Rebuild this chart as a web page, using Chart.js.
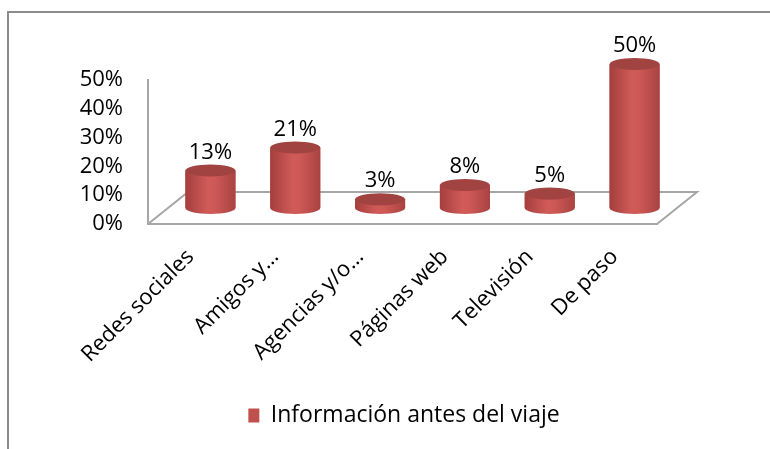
<!DOCTYPE html>
<html>
<head>
<meta charset="utf-8">
<script src="https://cdn.jsdelivr.net/npm/chart.js@4/dist/chart.umd.min.js"></script>
<style>
  html, body { margin: 0; padding: 0; background: #fff; }
  canvas { display: block; }
</style>
</head>
<body>
<canvas id="chart" width="770" height="449"></canvas>
<script>
const categories = ['Redes sociales', 'Amigos y…', 'Agencias y/o…', 'Páginas web', 'Televisión', 'De paso'];
const values = [13, 21, 3, 8, 5, 50];
const yTicks = [0, 10, 20, 30, 40, 50];
const seriesName = 'Información antes del viaje';

// 3D depth of the floor, bars sit half way back
const DEPTH_X = 40;
const DEPTH_Y = -32;
const RY = 6;
const FONT = "'Open Sans', sans-serif";

const cylinders = {
    id: 'cylinders',
    beforeDraw(chart) {
        const ctx = chart.ctx;
        ctx.save();
        ctx.strokeStyle = '#8c8c8c';
        ctx.lineWidth = 2;
        ctx.strokeRect(8, 12, 800, 500);
        ctx.restore();
    },
    beforeDatasetsDraw(chart) {
        const ctx = chart.ctx;
        const a = chart.chartArea;
        ctx.save();
        ctx.strokeStyle = '#a6a6a6';
        ctx.lineWidth = 2;
        ctx.beginPath();
        ctx.moveTo(a.left, a.bottom);
        ctx.lineTo(a.left + DEPTH_X, a.bottom + DEPTH_Y);
        ctx.lineTo(a.right + DEPTH_X, a.bottom + DEPTH_Y);
        ctx.lineTo(a.right, a.bottom);
        ctx.stroke();
        ctx.restore();
        ctx.save();
        ctx.translate(DEPTH_X / 2, DEPTH_Y / 2);
    },
    afterDatasetsDraw(chart) {
        const ctx = chart.ctx;
        const meta = chart.getDatasetMeta(0);
        meta.data.forEach((el, i) => {
            const cx = el.x, rx = el.width / 2, top = el.y, base = el.base;
            const g = ctx.createLinearGradient(cx - rx, 0, cx + rx, 0);
            g.addColorStop(0, '#a43f3d');
            g.addColorStop(0.45, '#d05b58');
            g.addColorStop(0.6, '#cd5855');
            g.addColorStop(1, '#a84341');
            ctx.beginPath();
            ctx.moveTo(cx - rx, top);
            ctx.lineTo(cx - rx, base);
            ctx.ellipse(cx, base, rx, RY, 0, Math.PI, 0, true);
            ctx.lineTo(cx + rx, top);
            ctx.ellipse(cx, top, rx, RY, 0, 0, Math.PI, false);
            ctx.closePath();
            ctx.fillStyle = g;
            ctx.fill();

            ctx.beginPath();
            ctx.ellipse(cx, top, rx, RY, 0, 0, Math.PI * 2);
            ctx.fillStyle = '#a04341';
            ctx.fill();

            ctx.fillStyle = '#000';
            ctx.font = '22px ' + FONT;
            ctx.textAlign = 'center';
            ctx.textBaseline = 'alphabetic';
            ctx.fillText(values[i] + '%', cx, top - RY - 6);
        });
        ctx.restore();
    }
};

new Chart(document.getElementById('chart'), {
    type: 'bar',
    data: {
        labels: categories,
        datasets: [{
            label: seriesName,
            data: values,
            backgroundColor: '#c0504d',
            borderWidth: 0,
            categoryPercentage: 1,
            barPercentage: 0.59
        }]
    },
    options: {
        responsive: false,
        animation: false,
        layout: {
            padding: { top: 80, right: 0, left: 38, bottom: 12 }
        },
        scales: {
            x: {
                grid: { display: false },
                border: { display: true, color: '#a6a6a6', width: 2 },
                ticks: {
                    color: '#000',
                    font: { family: FONT, size: 22 },
                    minRotation: 45,
                    maxRotation: 45,
                    autoSkip: false,
                    padding: 12
                },
                afterFit(scale) { scale.height = 174; }
            },
            y: {
                min: 0,
                max: 50,
                afterBuildTicks(scale) { scale.ticks = yTicks.map(v => ({ value: v })); },
                grid: { display: false, drawTicks: false },
                border: { display: true, color: '#a6a6a6', width: 2 },
                ticks: {
                    color: '#000',
                    font: { family: FONT, size: 22, lineHeight: 1 },
                    autoSkip: false,
                    padding: 25,
                    callback: v => v + '%'
                },
                afterFit(scale) { scale.width = 110; }
            },
            // empty right-hand space, keeps the plot narrow while the legend stays centred
            spacer: {
                type: 'linear',
                position: 'right',
                display: true,
                grid: { display: false },
                border: { display: false },
                ticks: { display: false },
                afterFit(scale) { scale.width = 113; }
            }
        },
        plugins: {
            legend: {
                position: 'bottom',
                labels: {
                    color: '#000',
                    font: { family: FONT, size: 23 },
                    boxWidth: 11,
                    boxHeight: 14,
                    padding: 6
                }
            },
            tooltip: { enabled: false }
        }
    },
    plugins: [cylinders]
});
</script>
</body>
</html>
